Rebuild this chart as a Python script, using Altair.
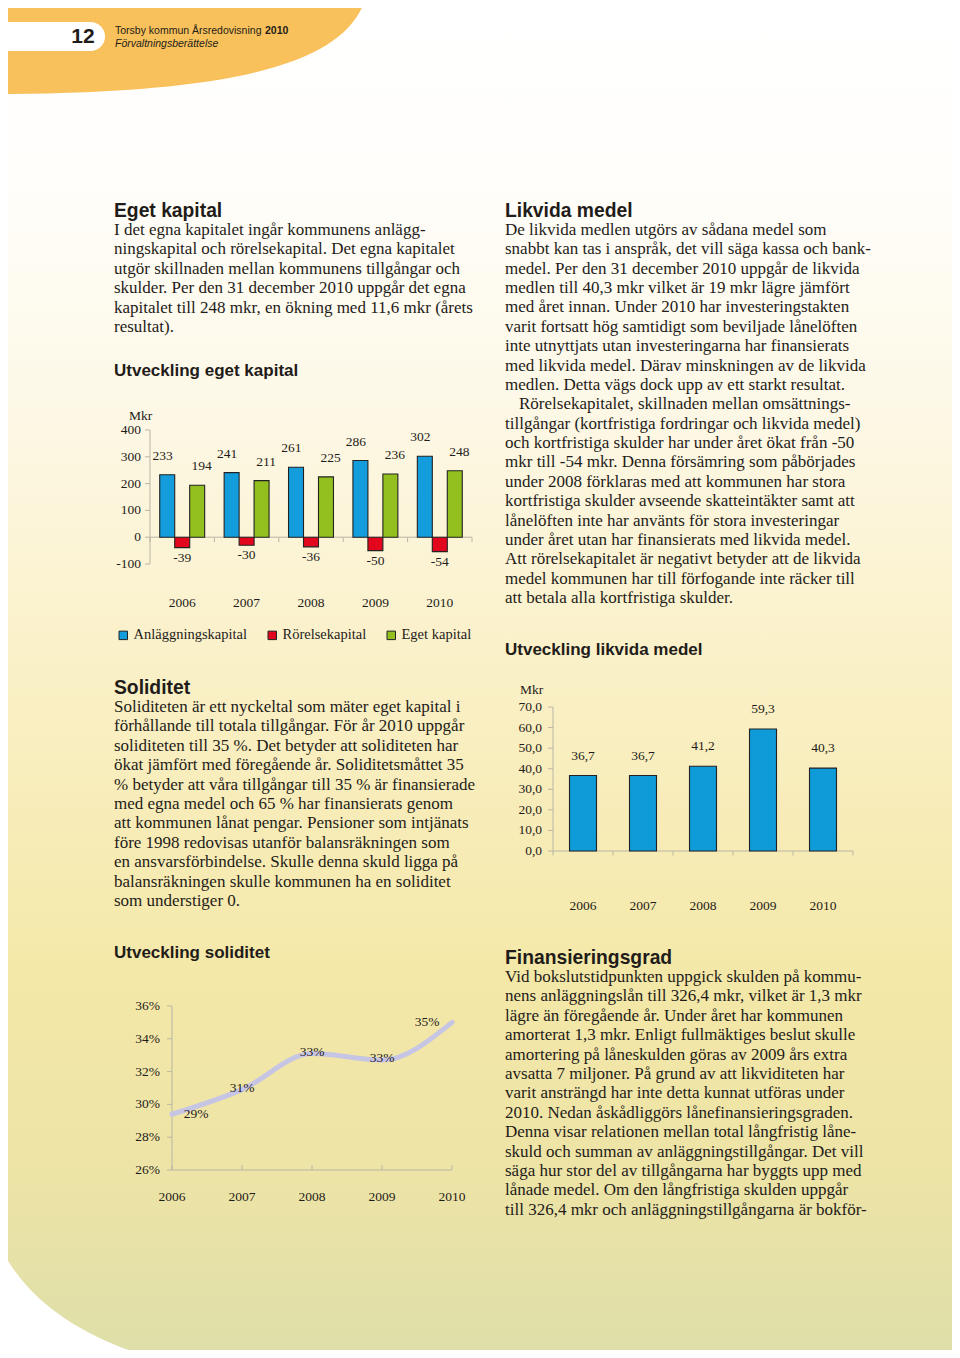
import altair as alt
import pandas as pd

W, H = 944, 1342
OX = OY = 8

# ---------------- data ----------------
years = ["2006", "2007", "2008", "2009", "2010"]
series = ["Anläggningskapital", "Rörelsekapital", "Eget kapital"]
anlaggningskapital = [233, 241, 261, 286, 302]
rorelsekapital = [-39, -30, -36, -50, -54]
eget_kapital = [194, 211, 225, 236, 248]
ticks_eget = [-100, 0, 100, 200, 300, 400]

likvida_medel = [36.7, 36.7, 41.2, 59.3, 40.3]
ticks_likvida = [0, 10, 20, 30, 40, 50, 60, 70]

soliditet = [29.4, 30.9, 33.1, 32.7, 35.0]
ticks_solid = [26, 28, 30, 32, 34, 36]

# ---------------- texts ----------------
header_line1 = "Torsby kommun Årsredovisning"
header_year = "2010"
header_line2 = "Förvaltningsberättelse"
page_no = "12"

h_eget = "Eget kapital"
eget_text = [
    "I det egna kapitalet ingår kommunens anlägg-",
    "ningskapital och rörelsekapital. Det egna kapitalet",
    "utgör skillnaden mellan kommunens tillgångar och",
    "skulder. Per den 31 december 2010 uppgår det egna",
    "kapitalet till 248 mkr, en ökning med 11,6 mkr (årets",
    "resultat).",
]
t_eget = "Utveckling eget kapital"

h_likvida = "Likvida medel"
likvida_text_a = [
    "De likvida medlen utgörs av sådana medel som",
    "snabbt kan tas i anspråk, det vill säga kassa och bank-",
    "medel. Per den 31 december 2010 uppgår de likvida",
    "medlen till 40,3 mkr vilket är 19 mkr lägre jämfört",
    "med året innan. Under 2010 har investeringstakten",
    "varit fortsatt hög samtidigt som beviljade lånelöften",
    "inte utnyttjats utan investeringarna har finansierats",
    "med likvida medel. Därav minskningen av de likvida",
    "medlen. Detta vägs dock upp av ett starkt resultat.",
]
likvida_text_b0 = ["Rörelsekapitalet, skillnaden mellan omsättnings-"]
likvida_text_b = [
    "tillgångar (kortfristiga fordringar och likvida medel)",
    "och kortfristiga skulder har under året ökat från -50",
    "mkr till -54 mkr. Denna försämring som påbörjades",
    "under 2008 förklaras med att kommunen har stora",
    "kortfristiga skulder avseende skatteintäkter samt att",
    "lånelöften inte har använts för stora investeringar",
    "under året utan har finansierats med likvida medel.",
    "Att rörelsekapitalet är negativt betyder att de likvida",
    "medel kommunen har till förfogande inte räcker till",
    "att betala alla kortfristiga skulder.",
]
t_likvida = "Utveckling likvida medel"

h_solid = "Soliditet"
solid_text = [
    "Soliditeten är ett nyckeltal som mäter eget kapital i",
    "förhållande till totala tillgångar. För år 2010 uppgår",
    "soliditeten till 35 %. Det betyder att soliditeten har",
    "ökat jämfört med föregående år. Soliditetsmåttet 35",
    "% betyder att våra tillgångar till 35 % är finansierade",
    "med egna medel och 65 % har finansierats genom",
    "att kommunen lånat pengar. Pensioner som intjänats",
    "före 1998 redovisas utanför balansräkningen som",
    "en ansvarsförbindelse. Skulle denna skuld ligga på",
    "balansräkningen skulle kommunen ha en soliditet",
    "som understiger 0.",
]
t_solid = "Utveckling soliditet"

h_fin = "Finansieringsgrad"
fin_text = [
    "Vid bokslutstidpunkten uppgick skulden på kommu-",
    "nens anläggningslån till 326,4 mkr, vilket är 1,3 mkr",
    "lägre än föregående år. Under året har kommunen",
    "amorterat 1,3 mkr. Enligt fullmäktiges beslut skulle",
    "amortering på låneskulden göras av 2009 års extra",
    "avsatta 7 miljoner. På grund av att likviditeten har",
    "varit ansträngd har inte detta kunnat utföras under",
    "2010. Nedan åskådliggörs lånefinansieringsgraden.",
    "Denna visar relationen mellan total långfristig låne-",
    "skuld och summan av anläggningstillgångar. Det vill",
    "säga hur stor del av tillgångarna har byggts upp med",
    "lånade medel. Om den långfristiga skulden uppgår",
    "till 326,4 mkr och anläggningstillgångarna är bokför-",
]
mkr = "Mkr"

# ---------------- styles ----------------
SERIF = "Liberation Serif"
SANS = "Liberation Sans"
INK = "#1f1c19"
AXIS = "#b9b6a6"
BLUE = "#139ddc"
RED = "#e2071d"
GREEN = "#93c01f"
BLUE2 = "#0f9ad8"
LAVENDER = "#c7c5e4"
ORANGE = "#f8c15b"
BODY = 17
PITCH = 19.4


def one():
    return alt.Data(values=[{"k": 0}])


def block(lines, x, y0, pitch=PITCH, size=BODY, font=SERIF, weight="normal"):
    return (
        alt.Chart(alt.Data(values=[{"t": s, "i": i} for i, s in enumerate(lines)]))
        .transform_calculate(yy=f"{y0 - OY} + datum.i * {pitch}")
        .mark_text(align="left", baseline="alphabetic", font=font, fontSize=size,
                   fontWeight=weight, color=INK)
        .encode(x=alt.value(x - OX), y=alt.Y("yy:Q", scale=None, axis=None), text="t:N")
    )


def label(s, x, y, size, font=SANS, weight="bold", style="normal", align="left",
          baseline="alphabetic", color=INK):
    return alt.Chart(one()).mark_text(
        text=s, align=align, baseline=baseline, font=font, fontSize=size,
        fontWeight=weight, fontStyle=style, color=color
    ).encode(x=alt.value(x - OX), y=alt.value(y - OY))


layers = []

# background gradient
layers.append(
    alt.Chart(one()).mark_rect(
        fill={"gradient": "linear", "x1": 0, "x2": 0, "y1": 0, "y2": 1,
              "stops": [{"offset": 0, "color": "#ffffff"},
                        {"offset": 0.12, "color": "#fffefb"},
                        {"offset": 0.3, "color": "#fdf8e6"},
                        {"offset": 0.5, "color": "#faf0c6"},
                        {"offset": 0.72, "color": "#f4e8a8"},
                        {"offset": 0.88, "color": "#ece3a6"},
                        {"offset": 1, "color": "#dedfa9"}]}
    ).encode(x=alt.value(0), x2=alt.value(W), y=alt.value(0), y2=alt.value(H))
)
# white bottom-left corner
layers.append(
    alt.Chart(one()).mark_point(
        shape="M-20,1247 L0,1247 C25,1295 70,1335 165,1362 L-20,1362 Z",
        size=4, filled=True, color="#ffffff", opacity=1, strokeWidth=0
    ).encode(x=alt.value(-OX), y=alt.value(-OY))
)
# orange header
layers.append(
    alt.Chart(one()).mark_point(
        shape="M-20,-20 L372,-20 L365,0 C345,58 255,93 0,94 L-20,94 Z",
        size=4, filled=True, color=ORANGE, opacity=1, strokeWidth=0
    ).encode(x=alt.value(-OX), y=alt.value(-OY))
)
layers.append(
    alt.Chart(one()).mark_rect(color="#ffffff", cornerRadius=14.5).encode(
        x=alt.value(-20 - OX), x2=alt.value(105 - OX), y=alt.value(22 - OY), y2=alt.value(51 - OY))
)
layers.append(label(page_no, 83, 37, 21, align="center", baseline="middle"))
layers.append(label(header_line1, 115, 34, 10.5, weight="normal"))
layers.append(label(header_year, 265, 34, 10.5, weight="bold"))
layers.append(label(header_line2, 115, 47, 10.5, weight="normal", style="italic"))

# headings and body text
layers += [
    label(h_eget, 114, 217, 19.3),
    block(eget_text, 114, 235),
    label(t_eget, 114, 376, 17),
    label(h_likvida, 505, 217, 19.3),
    block(likvida_text_a, 505, 235, pitch=19.37),
    block(likvida_text_b0, 519, 235 + 9 * 19.37),
    block(likvida_text_b, 505, 235 + 10 * 19.37, pitch=19.37),
    label(t_likvida, 505, 655, 17),
    label(h_solid, 114, 694, 19.3),
    block(solid_text, 114, 712),
    label(t_solid, 114, 958, 17),
    label(h_fin, 505, 964, 19.3),
    block(fin_text, 505, 982),
]

TICK_FONT = dict(font=SERIF, fontSize=13.5, color=INK)

# ---------------- chart 1: eget kapital ----------------
df1 = pd.DataFrame({
    "year": years * 3,
    "series": [s for s in series for _ in years],
    "value": anlaggningskapital + rorelsekapital + eget_kapital,
})
c1x = alt.Scale(domain=years, range=[150 - OX, 472 - OX], paddingInner=0, paddingOuter=0)
c1y = alt.Scale(domain=[-100, 400], range=[564 - OY, 430 - OY], nice=False, zero=False)
c1o = alt.Scale(domain=series, paddingInner=0, paddingOuter=0.65)

layers.append(
    alt.Chart(pd.DataFrame({"v": ticks_eget})).mark_rule(color=AXIS).encode(
        x=alt.value(145 - OX), x2=alt.value(150 - OX), y=alt.Y("v:Q", scale=c1y, axis=None))
)
layers.append(
    alt.Chart(one()).mark_rule(color=AXIS).encode(
        x=alt.value(150 - OX), y=alt.Y(datum=-100, scale=c1y, axis=None), y2=alt.Y2(datum=400))
)
layers.append(
    alt.Chart(one()).mark_rule(color=AXIS).encode(
        x=alt.value(150 - OX), x2=alt.value(472 - OX), y=alt.Y(datum=0, scale=c1y, axis=None))
)
layers.append(
    alt.Chart(pd.DataFrame({"year": years})).mark_rule(color=AXIS).encode(
        x=alt.X("year:N", scale=c1x, axis=None, bandPosition=0),
        y=alt.Y(datum=0, scale=c1y, axis=None), y2=alt.Y2(datum=-18))
)
layers.append(
    alt.Chart(pd.DataFrame({"year": years[-1:]})).mark_rule(color=AXIS).encode(
        x=alt.X("year:N", scale=c1x, axis=None, bandPosition=1),
        y=alt.Y(datum=0, scale=c1y, axis=None), y2=alt.Y2(datum=-18))
)
layers.append(
    alt.Chart(df1).mark_bar(stroke="#222222", strokeWidth=1.1).encode(
        x=alt.X("year:N", scale=c1x, axis=None),
        xOffset=alt.XOffset("series:N", scale=c1o, sort=series),
        y=alt.Y("value:Q", scale=c1y, axis=None),
        y2=alt.Y2(datum=0),
        color=alt.Color("series:N", sort=series,
                        scale=alt.Scale(domain=series, range=[BLUE, RED, GREEN]),
                        legend=alt.Legend(orient="none", legendX=116 - OX, legendY=628 - OY,
                                          direction="horizontal", title=None,
                                          symbolType="square", symbolSize=72,
                                          symbolStrokeColor="#222222", symbolStrokeWidth=1,
                                          symbolOpacity=1,
                                          labelFont=SERIF, labelFontSize=14.5, labelColor=INK,
                                          labelOffset=3, columnPadding=17)),
    )
)
layers.append(
    alt.Chart(df1).transform_filter("datum.value > 0").transform_calculate(
        lbl="'' + datum.value"
    ).mark_text(baseline="middle", dy=-19, **TICK_FONT).encode(
        x=alt.X("year:N", scale=c1x, axis=None),
        xOffset=alt.XOffset("series:N", scale=c1o, sort=series),
        y=alt.Y("value:Q", scale=c1y, axis=None),
        text="lbl:N")
)
layers.append(
    alt.Chart(df1).transform_filter("datum.value < 0").transform_calculate(
        lbl="'' + datum.value"
    ).mark_text(baseline="middle", dy=10, **TICK_FONT).encode(
        x=alt.X("year:N", scale=c1x, axis=None),
        xOffset=alt.XOffset("series:N", scale=c1o, sort=series),
        y=alt.Y("value:Q", scale=c1y, axis=None),
        text="lbl:N")
)
layers.append(
    alt.Chart(pd.DataFrame({"v": ticks_eget})).transform_calculate(
        lbl="'' + datum.v"
    ).mark_text(align="right", baseline="middle", **TICK_FONT).encode(
        x=alt.value(141 - OX), y=alt.Y("v:Q", scale=c1y, axis=None), text="lbl:N")
)
layers.append(label(mkr, 129, 416, 13.5, font=SERIF, weight="normal", baseline="middle"))
layers.append(
    alt.Chart(pd.DataFrame({"year": years})).mark_text(baseline="middle", **TICK_FONT).encode(
        x=alt.X("year:N", scale=c1x, axis=None), y=alt.value(603 - OY), text="year:N")
)

# ---------------- chart 2: likvida medel ----------------
df2 = pd.DataFrame({"year": years, "v": likvida_medel})
c2x = alt.Scale(domain=years, range=[553 - OX, 853 - OX], paddingInner=0.55, paddingOuter=0.275)
c2xs = alt.Scale(domain=years, range=[553 - OX, 853 - OX], paddingInner=0, paddingOuter=0)
c2y = alt.Scale(domain=[0, 70], range=[851 - OY, 707 - OY], nice=False, zero=False)

layers.append(
    alt.Chart(pd.DataFrame({"v": ticks_likvida})).mark_rule(color=AXIS).encode(
        x=alt.value(548 - OX), x2=alt.value(553 - OX), y=alt.Y("v:Q", scale=c2y, axis=None))
)
layers.append(
    alt.Chart(one()).mark_rule(color=AXIS).encode(
        x=alt.value(553 - OX), y=alt.Y(datum=0, scale=c2y, axis=None), y2=alt.Y2(datum=70))
)
layers.append(
    alt.Chart(one()).mark_rule(color=AXIS).encode(
        x=alt.value(553 - OX), x2=alt.value(853 - OX), y=alt.Y(datum=0, scale=c2y, axis=None))
)
layers.append(
    alt.Chart(pd.DataFrame({"year": years})).mark_rule(color=AXIS).encode(
        x=alt.X("year:N", scale=c2xs, axis=None, bandPosition=0),
        y=alt.Y(datum=0, scale=c2y, axis=None), y2=alt.Y2(datum=-2.2))
)
layers.append(
    alt.Chart(pd.DataFrame({"year": years[-1:]})).mark_rule(color=AXIS).encode(
        x=alt.X("year:N", scale=c2xs, axis=None, bandPosition=1),
        y=alt.Y(datum=0, scale=c2y, axis=None), y2=alt.Y2(datum=-2.2))
)
layers.append(
    alt.Chart(df2).mark_bar(color=BLUE2, stroke="#222222", strokeWidth=1.1).encode(
        x=alt.X("year:N", scale=c2x, axis=None),
        y=alt.Y("v:Q", scale=c2y, axis=None), y2=alt.Y2(datum=0))
)
layers.append(
    alt.Chart(df2).transform_calculate(
        lbl="replace(format(datum.v, '.1f'), '.', ',')"
    ).mark_text(baseline="middle", dy=-20, **TICK_FONT).encode(
        x=alt.X("year:N", scale=c2x, axis=None),
        y=alt.Y("v:Q", scale=c2y, axis=None), text="lbl:N")
)
layers.append(
    alt.Chart(pd.DataFrame({"v": ticks_likvida})).transform_calculate(
        lbl="replace(format(datum.v, '.1f'), '.', ',')"
    ).mark_text(align="right", baseline="middle", **TICK_FONT).encode(
        x=alt.value(542 - OX), y=alt.Y("v:Q", scale=c2y, axis=None), text="lbl:N")
)
layers.append(label(mkr, 520, 690, 13.5, font=SERIF, weight="normal", baseline="middle"))
layers.append(
    alt.Chart(pd.DataFrame({"year": years})).mark_text(baseline="middle", **TICK_FONT).encode(
        x=alt.X("year:N", scale=c2x, axis=None), y=alt.value(906 - OY), text="year:N")
)

# ---------------- chart 3: soliditet ----------------
df3 = pd.DataFrame({"year": years, "v": soliditet})
c3x = alt.Scale(type="point", domain=years, range=[172 - OX, 452 - OX], padding=0)
c3y = alt.Scale(domain=[26, 36], range=[1170 - OY, 1006 - OY], nice=False, zero=False)

layers.append(
    alt.Chart(pd.DataFrame({"v": ticks_solid})).mark_rule(color=AXIS).encode(
        x=alt.value(167 - OX), x2=alt.value(172 - OX), y=alt.Y("v:Q", scale=c3y, axis=None))
)
layers.append(
    alt.Chart(one()).mark_rule(color=AXIS).encode(
        x=alt.value(172 - OX), y=alt.Y(datum=26, scale=c3y, axis=None), y2=alt.Y2(datum=36))
)
layers.append(
    alt.Chart(one()).mark_rule(color=AXIS).encode(
        x=alt.value(172 - OX), x2=alt.value(452 - OX), y=alt.Y(datum=26, scale=c3y, axis=None))
)
layers.append(
    alt.Chart(pd.DataFrame({"year": years})).mark_rule(color=AXIS).encode(
        x=alt.X("year:N", scale=c3x, axis=None),
        y=alt.Y(datum=26, scale=c3y, axis=None), y2=alt.Y2(datum=26.3))
)
layers.append(
    alt.Chart(df3).mark_line(color=LAVENDER, strokeWidth=5, interpolate="monotone",
                             strokeCap="round").encode(
        x=alt.X("year:N", scale=c3x, axis=None),
        y=alt.Y("v:Q", scale=c3y, axis=None))
)
for sel, dx, dy in [("datum.year == '2006'", 24, 0),
                    ("datum.year != '2006' && datum.year != '2010'", 0, -2),
                    ("datum.year == '2010'", -25, 0)]:
    layers.append(
        alt.Chart(df3).transform_filter(sel).transform_calculate(
            lbl="round(datum.v) + '%'"
        ).mark_text(baseline="middle", dx=dx, dy=dy, **TICK_FONT).encode(
            x=alt.X("year:N", scale=c3x, axis=None),
            y=alt.Y("v:Q", scale=c3y, axis=None), text="lbl:N")
    )
layers.append(
    alt.Chart(pd.DataFrame({"v": ticks_solid})).transform_calculate(
        lbl="datum.v + '%'"
    ).mark_text(align="right", baseline="middle", **TICK_FONT).encode(
        x=alt.value(160 - OX), y=alt.Y("v:Q", scale=c3y, axis=None), text="lbl:N")
)
layers.append(
    alt.Chart(pd.DataFrame({"year": years})).mark_text(baseline="middle", **TICK_FONT).encode(
        x=alt.X("year:N", scale=c3x, axis=None), y=alt.value(1197 - OY), text="year:N")
)

chart = alt.layer(*layers).resolve_scale(
    x="independent", y="independent", color="independent", xOffset="independent"
).properties(
    width=W, height=H, autosize=alt.AutoSizeParams(type="none"), padding=0
).configure_view(stroke=None)

chart.save("out.html", embed_options={"renderer": "svg", "actions": False})
